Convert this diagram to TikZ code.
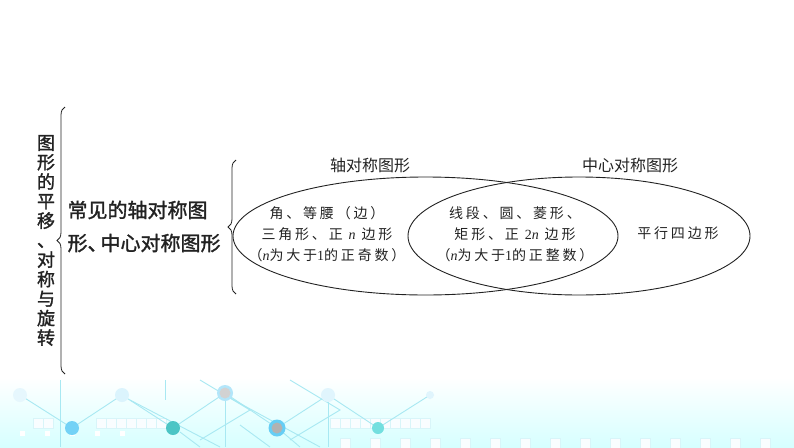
\documentclass[tikz,border=0pt]{standalone}
\usepackage{fontspec}
\newfontfamily\cjk{Noto Sans CJK SC}
\newfontfamily\cjkm[FakeBold=1.5]{Noto Sans CJK SC}
\newfontfamily\cjksp[LetterSpace=20]{Noto Sans CJK SC}
\newfontfamily\lat{Liberation Serif}
\usetikzlibrary{shapes.geometric,decorations.pathreplacing}
\definecolor{ink}{HTML}{222222}
\definecolor{deco}{HTML}{A8E8F2}
\begin{document}
\begin{tikzpicture}[x=1pt,y=-1pt,
  venn/.style={ellipse,draw=ink,line width=0.9pt,inner sep=0pt,minimum width=385pt,minimum height=118pt},
  rvenn/.style={ellipse,draw=ink,line width=0.9pt,inner sep=0pt,minimum width=342pt,minimum height=118pt},
  etext/.style={align=center,text=ink,font=\cjksp\fontsize{14}{21}\selectfont},
  head/.style={text=ink,font=\cjk\fontsize{16}{18}\selectfont},
  bigbrace/.style={draw=ink,line width=0.8pt,decorate,decoration={brace,amplitude=8pt}},
  dline/.style={draw=deco,line width=0.9pt},
  dsq/.style={draw=deco!45,line width=0.8pt,fill=white!70!cyan!8}
]
\useasboundingbox (0,0) rectangle (794,447);
% background decoration
\fill[top color=white,bottom color=cyan!16] (0,378) rectangle (794,447);
\foreach \x in {100,130,290,320,350,380,410,440,470,990,1020,1050,1080,1110,1140,1170,1200,1230,1260}{
  \draw[dsq] (\x/3,418) rectangle ++(10,10);}
\foreach \x in {20,45,70,95,120}{
  \fill[white] (\x,431) rectangle ++(5,5);}
\foreach \x in {340,370,400,430,460,490,520,550,580,610,640,670,700,730,760}{
  \draw[dsq] (\x,438) rectangle ++(10,10);}
\draw[dline] (20,395) -- (72,428) -- (122,395) -- (173,428) -- (225,393) -- (277,428) -- (328,395) -- (378,428) -- (430,395);
\draw[dline] (130,400) -- (220,447);
\draw[dline] (230,398) -- (320,447);
\draw[dline] (280,430) -- (300,447);
\draw[dline] (240,425) -- (270,447);
\draw[dline] (180,432) -- (200,447);
\draw[dline] (225,393) -- (225,447);
\draw[dline] (328,395) -- (328,447);
\draw[dline] (60,380) -- (60,447);
\draw[dline] (165,380) -- (165,400);
\draw[dline] (200,380) -- (250,410) -- (200,440);
\draw[dline] (290,380) -- (340,410) -- (290,440);
\fill[cyan!10] (20,395) circle (7);
\fill[cyan!14] (122,395) circle (7);
\fill[cyan!30] (225,393) circle (8);
\fill[gray!35] (225,393) circle (5.5);
\fill[cyan!12] (328,395) circle (7);
\fill[cyan!12] (430,395) circle (4);
\fill[cyan!55] (72,428) circle (7);
\fill[teal!65!cyan!70!white] (173,428) circle (7);
\fill[cyan!60] (277,428) circle (8.5);
\fill[gray!60] (277,428) circle (5.5);
\fill[teal!45!cyan!55!white] (378,428) circle (6);
% left title and braces
\node[text=ink,align=center,font=\cjkm\fontsize{18}{19.5}\selectfont] (title) at (46,240.5)
  {图\\形\\的\\平\\移\\、\\对\\称\\与\\旋\\转};
\coordinate (b1s) at (65,374);
\coordinate (b1e) at (65,107);
\draw[bigbrace] (b1s) -- (b1e);
\node[anchor=west,text=ink,align=left,font=\cjkm\fontsize{20}{33}\selectfont] (sub) at (64,226.5)
  {常见的轴对称图\\形、\kern-7pt中心对称图形};
\coordinate (b2s) at (236,294);
\coordinate (b2e) at (236,160);
\draw[bigbrace] (b2s) -- (b2e);
% venn
\node[venn] (axial) at (425.5,236) {};
\node[rvenn] (central) at (579,236) {};
\node[head] (h1) at (370,165) {轴对称图形};
\node[head] (h2) at (630,165) {中心对称图形};
\node[etext] (t1) at (327,234) {角、等腰（边）\\三角形、正 {\lat\itshape n} 边形\\（{\lat\itshape n}为大于{\lat 1}的正奇数）};
\node[etext] (t2) at (515,234) {线段、圆、菱形、\\矩形、正 {\lat 2\itshape n} 边形\\（{\lat\itshape n}为大于{\lat 1}的正整数）};
\node[etext] (t3) at (678,233) {平行四边形};
\end{tikzpicture}
\end{document}
